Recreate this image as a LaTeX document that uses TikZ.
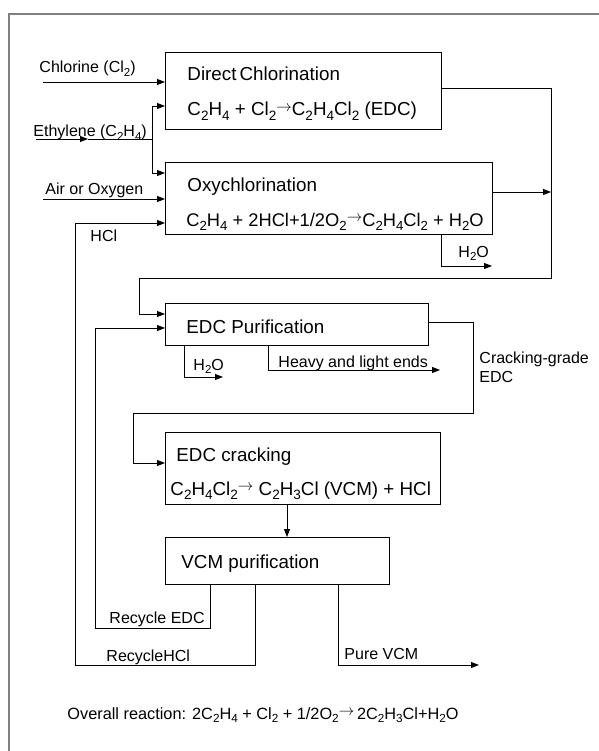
\documentclass[tikz,border=0pt]{standalone}
\usepackage{fontspec}
\setmainfont{Liberation Sans}
\usetikzlibrary{arrows.meta,calc}
\newcommand\sbt[1]{\raisebox{-0.45ex}{\scalebox{0.72}{#1}}}
\newcommand\rxn{\raisebox{0.45ex}{\scalebox{0.9}{$\rightarrow$}}}
\begin{document}
\begin{tikzpicture}[x=1pt,y=-1pt,line width=0.9pt,
  box/.style={draw,rectangle,inner sep=0pt,anchor=north west},
  arr/.style={-{Triangle[length=8pt,width=6pt]}},
  lbl/.style={font=\fontsize{16}{18}\selectfont,anchor=base west,inner sep=0pt},
  btxt/.style={font=\fontsize{18.8}{20}\selectfont,anchor=base west,inner sep=0pt},
  frame/.style={draw=gray,line width=1.2pt}]
\useasboundingbox (0,0) rectangle (598,751);
\draw[frame] (9,760) -- (9,14) -- (605,14);

% boxes
\node[box,minimum width=276pt,minimum height=77pt] (dc) at (165,52) {};
\node[box,minimum width=327pt,minimum height=72pt] (ox) at (165,162) {};
\node[box,minimum width=263pt,minimum height=42pt] (ep) at (165,303) {};
\node[box,minimum width=275pt,minimum height=72pt] (ec) at (165,432) {};
\node[box,minimum width=224pt,minimum height=47pt] (vcm) at (165,537) {};

% box texts
\node[btxt] (dct) at (187,81) {Direct\,Chlorination};
\node[btxt] (dce) at (187,116) {C\sbt{2}H\sbt{4} + Cl\sbt{2}\rxn C\sbt{2}H\sbt{4}Cl\sbt{2} (EDC)};
\node[btxt] (oxt) at (187,192) {Oxychlorination};
\node[btxt,font=\fontsize{18.3}{20}\selectfont] (oxe) at (186,226) {C\sbt{2}H\sbt{4} + 2HCl+1/2O\sbt{2}\rxn C\sbt{2}H\sbt{4}Cl\sbt{2} + H\sbt{2}O};
\node[btxt] (ept) at (186,333) {EDC Purification};
\node[btxt] (ect) at (176,461) {EDC cracking};
\node[btxt] (ece) at (170,495) {C\sbt{2}H\sbt{4}Cl\sbt{2}\rxn\ C\sbt{2}H\sbt{3}Cl (VCM) + HCl};
\node[btxt] (vct) at (181,568) {VCM purification};

% labels
\node[lbl] (lcl) at (39,73) {Chlorine (Cl\sbt{2})};
\node[lbl] (let) at (33,137) {Ethylene (C\sbt{2}H\sbt{4})};
\node[lbl] (lair) at (45,195) {Air or Oxygen};
\node[lbl] (lhcl) at (90,241) {HCl};
\node[lbl] (lh1) at (458,257) {H\sbt{2}O};
\node[lbl] (lh2) at (193,370) {H\sbt{2}O};
\node[lbl] (lhv) at (278,367) {Heavy and light ends};
\node[lbl] (lcg1) at (479,363) {Cracking-grade};
\node[lbl] (lcg2) at (479,382) {EDC};
\node[lbl] (lre) at (109,623) {Recycle EDC};
\node[lbl] (lrh) at (106,661) {RecycleHCl};
\node[lbl] (lpv) at (344,659) {Pure VCM};
\node[font=\fontsize{16.3}{19}\selectfont,anchor=base west,inner sep=0pt] (ovr) at (67,719)
  {Overall reaction: 2C\sbt{2}H\sbt{4} + Cl\sbt{2} + 1/2O\sbt{2}\rxn\,2C\sbt{2}H\sbt{3}Cl+H\sbt{2}O};

% coordinates
\coordinate (cin) at (43,82);
\coordinate (ein) at (36,139);
\coordinate (emid) at (88,139);
\coordinate (ej) at (152,139);
\coordinate (ejt) at (152,106);
\coordinate (ejb) at (152,173);
\coordinate (ain) at (43,199);
\coordinate (hcl) at (75,223);
\coordinate (rh) at (255,665);
\coordinate (re) at (210,628);
\coordinate (rein) at (95,328);
\coordinate (pv) at (338,665);
\coordinate (pve) at (479,665);
\coordinate (vx) at (287,0);
\coordinate (rc) at (551,88);
\coordinate (rb) at (551,278);
\coordinate (lb) at (139,314);
\coordinate (oxo) at (551,192);
\coordinate (h1) at (441,266);
\coordinate (h1e) at (492,266);
\coordinate (h2) at (184,377);
\coordinate (h2e) at (223,377);
\coordinate (hv) at (268,370);
\coordinate (hve) at (440,370);
\coordinate (cg1) at (473,322);
\coordinate (cg2) at (473,413);
\coordinate (cg3) at (133,413);
\coordinate (cgin) at (133,463);

% connectors
\draw[arr] (cin) -- (cin -| dc.west);
\draw[arr] (ein) -- (emid);
\draw (emid) -- (ej);
\draw[arr] (ej) -- (ejt) -- (ejt -| dc.west);
\draw[arr] (ej) -- (ejb) -- (ejb -| ox.west);
\draw[arr] (ain) -- (ain -| ox.west);
\draw[arr] (rh |- vcm.south) -- (rh) -| (hcl) -- (hcl -| ox.west);
\draw[arr] (re |- vcm.south) -- (re) -| (rein) -- (rein -| ep.west);
\draw[arr] (pv |- vcm.south) -- (pv) -- (pve);
\draw[arr] (ec.south -| vx) -- (vcm.north -| vx);
\draw[arr] (dc.east |- rc) -- (rc) -- (rb) -| (lb) -- (lb -| ep.west);
\draw[arr] (oxo -| ox.east) -- (oxo);
\draw[arr] (h1 |- ox.south) -- (h1) -- (h1e);
\draw[arr] (h2 |- ep.south) -- (h2) -- (h2e);
\draw[arr] (hv |- ep.south) -- (hv) -- (hve);
\draw[arr] (ep.east |- cg1) -- (cg1) -- (cg2) -- (cg3) -- (cgin) -- (cgin -| ec.west);
\end{tikzpicture}
\end{document}
